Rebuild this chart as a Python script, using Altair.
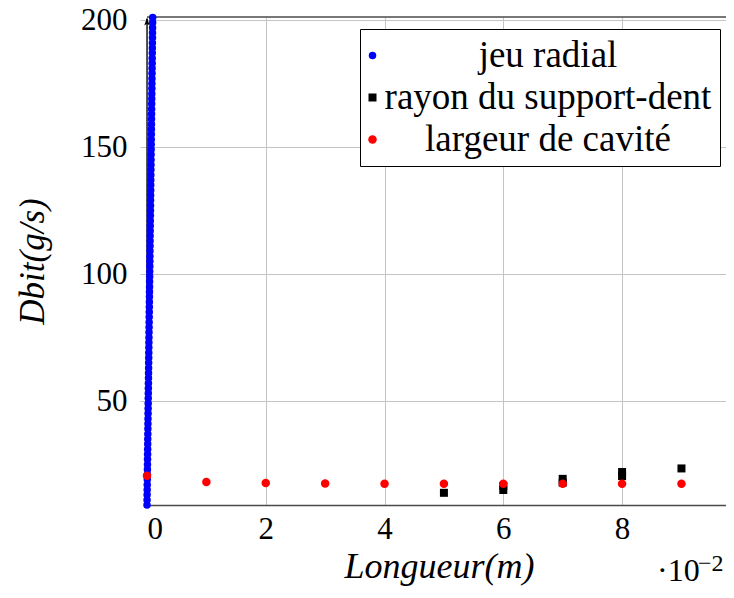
import altair as alt
import pandas as pd

# ---------------- data ----------------
series = ["jeu radial", "rayon du support-dent", "largeur de cavité"]
series_colors = ["#0000ff", "#000000", "#ff0000"]
series_shapes = ["circle", "square", "circle"]
series_sizes = [56, 72, 62]

# jeu radial (x in micrometres, converted to metres below)
jeu_x_um = [0, 10, 20, 30, 40, 50, 60, 70, 80, 90, 100, 110, 120, 130, 140, 150, 160, 170, 180, 190,
            200, 210, 220, 230, 240, 250, 260, 270, 280, 290, 300, 310, 320, 330, 340, 350, 360, 370,
            380, 390, 400, 410, 420, 430, 440, 450, 460, 470, 480, 490, 500, 510, 520, 530, 540, 550,
            560, 570, 580, 590, 600, 610, 620, 630, 640, 650, 660, 670, 680, 690, 700, 710, 720, 730,
            740, 750, 760, 770, 780, 790, 800, 810, 820, 830, 840, 850, 860, 870, 880, 890, 900, 910,
            920, 930, 940, 950, 960]
jeu_y = [9.1, 11.1, 13.1, 15.1, 17.1, 19.1, 21.1, 23.1, 25.1, 27.1, 29.1, 31.1, 33.1, 35.1, 37.1,
         39.1, 41.1, 43.1, 45.1, 47.1, 49.1, 51.1, 53.1, 55.1, 57.1, 59.1, 61.1, 63.1, 65.1, 67.1,
         69.1, 71.1, 73.1, 75.1, 77.1, 79.1, 81.1, 83.1, 85.1, 87.1, 89.1, 91.1, 93.1, 95.1, 97.1,
         99.1, 101.1, 103.1, 105.1, 107.1, 109.1, 111.1, 113.1, 115.1, 117.1, 119.1, 121.1, 123.1,
         125.1, 127.1, 129.1, 131.1, 133.1, 135.1, 137.1, 139.1, 141.1, 143.1, 145.1, 147.1, 149.1,
         151.1, 153.1, 155.1, 157.1, 159.1, 161.1, 163.1, 165.1, 167.1, 169.1, 171.1, 173.1, 175.1,
         177.1, 179.1, 181.1, 183.1, 185.1, 187.1, 189.1, 191.1, 193.1, 195.1, 197.1, 199.1, 201.1]

# rayon du support-dent
rayon_x = [0.05, 0.06, 0.06, 0.07, 0.07, 0.08, 0.08, 0.09]
rayon_y = [13.9, 15.0, 16.6, 17.9, 19.4, 20.5, 22.1, 23.5]

# largeur de cavité
cav_x = [0.0, 0.01, 0.02, 0.03, 0.04, 0.05, 0.06, 0.07, 0.08, 0.09]
cav_y = [20.6, 18.2, 17.8, 17.6, 17.5, 17.5, 17.5, 17.5, 17.5, 17.5]

# axis arrow along x = 0
arrow_x = [0.0]
arrow_y0 = [9.1]
arrow_y1 = [200.6]

x_ticks = [0.0, 0.02, 0.04, 0.06, 0.08]
y_ticks = [50, 100, 150, 200]
x_domain = [0.0, 0.0975]
y_domain = [9.1, 201.3]

FONT = "Liberation Serif"
GRID = "#c4c4c4"
FRAME = "#4a4a4a"

# ---------------- frames ----------------
df = pd.concat([
    pd.DataFrame({"x": [v / 1e6 for v in jeu_x_um], "y": jeu_y, "serie": series[0]}),
    pd.DataFrame({"x": rayon_x, "y": rayon_y, "serie": series[1]}),
    pd.DataFrame({"x": cav_x, "y": cav_y, "serie": series[2]}),
], ignore_index=True)

arrow_df = pd.DataFrame({"x": arrow_x, "y": arrow_y0, "y2": arrow_y1})
head_df = pd.DataFrame({"x": arrow_x, "y": [arrow_y1[0] - 1.2]})
top_df = pd.DataFrame({"x": [x_domain[0]], "x2": [x_domain[1]], "y": [y_domain[1]]})

xscale = alt.Scale(domain=x_domain, nice=False, zero=False)
yscale = alt.Scale(domain=y_domain, nice=False, zero=False)

x_axis = alt.Axis(values=x_ticks, labelExpr="round(datum.value*100)", grid=True, gridColor=GRID,
                  ticks=False, domain=True, domainColor=FRAME, domainWidth=1.5,
                  labelFont=FONT, labelFontSize=31, labelColor="black",
                  labelPadding=9, title="Longueur(m)", titleFont=FONT, titleFontSize=36,
                  titleFontStyle="italic", titleFontWeight="normal", titleColor="black",
                  titleX=292, titleY=72, titleBaseline="alphabetic")
y_axis = alt.Axis(values=y_ticks, grid=True, gridColor=GRID, ticks=True, tickSize=7, tickColor=GRID,
                  domain=False, labelFont=FONT, labelFontSize=31, labelColor="black", labelPadding=13,
                  title="Dbit(g/s)", titleFont=FONT, titleFontSize=35, titleFontStyle="italic",
                  titleFontWeight="normal", titleColor="black", titleAngle=270,
                  titleX=-104, titleY=244, titleBaseline="alphabetic")

top_line = alt.Chart(top_df).mark_rule(color=FRAME, strokeWidth=1.5).encode(
    x=alt.X("x:Q", scale=xscale, axis=x_axis),
    x2="x2:Q",
    y=alt.Y("y:Q", scale=yscale, axis=y_axis),
)
arrow_line = alt.Chart(arrow_df).mark_rule(color="black", strokeWidth=1.3).encode(
    x=alt.X("x:Q", scale=xscale, title="Longueur(m)"),
    y=alt.Y("y:Q", scale=yscale, title="Dbit(g/s)"),
    y2="y2:Q",
)
arrow_head = alt.Chart(head_df).mark_point(
    shape="M0,-1L-0.65,0.9L0,0.45L0.65,0.9Z", filled=True, color="black", opacity=1, size=70
).encode(
    x=alt.X("x:Q", scale=xscale, title="Longueur(m)"),
    y=alt.Y("y:Q", scale=yscale, title="Dbit(g/s)"),
)

points = alt.Chart(df).mark_point(filled=True, opacity=1, strokeWidth=0).encode(
    x=alt.X("x:Q", scale=xscale, title="Longueur(m)"),
    y=alt.Y("y:Q", scale=yscale, title="Dbit(g/s)"),
    color=alt.Color("serie:N", scale=alt.Scale(domain=series, range=series_colors), title=None),
    shape=alt.Shape("serie:N", scale=alt.Scale(domain=series, range=series_shapes), title=None),
    size=alt.Size("serie:N", scale=alt.Scale(domain=series, range=series_sizes), title=None),
)

txt_pow = alt.Chart(pd.DataFrame({"t": ["·10"]})).mark_text(
    font=FONT, fontSize=32, color="black", align="left", baseline="alphabetic"
).encode(x=alt.value(510), y=alt.value(564), text="t:N")
txt_exp = alt.Chart(pd.DataFrame({"t": ["−2"]})).mark_text(
    font=FONT, fontSize=24, color="black", align="left", baseline="alphabetic"
).encode(x=alt.value(551), y=alt.value(554), text="t:N")

chart = alt.layer(top_line, arrow_line, arrow_head, points, txt_pow, txt_exp).properties(
    width=579, height=488,
    autosize=alt.AutoSizeParams(type="none"),
    padding={"left": 139, "top": 9, "right": 0, "bottom": 85},
).configure_view(
    strokeWidth=0
).configure_legend(
    orient="none", legendX=213, legendY=12,
    strokeColor="black", fillColor="white", padding=8, cornerRadius=0,
    labelFont=FONT, labelFontSize=37, labelColor="black", labelAlign="center",
    labelOffset=157, symbolOffset=-14, rowPadding=4, symbolStrokeWidth=0, labelLimit=0,
)

chart.save("out.html", embed_options={"renderer": "svg", "actions": False})
